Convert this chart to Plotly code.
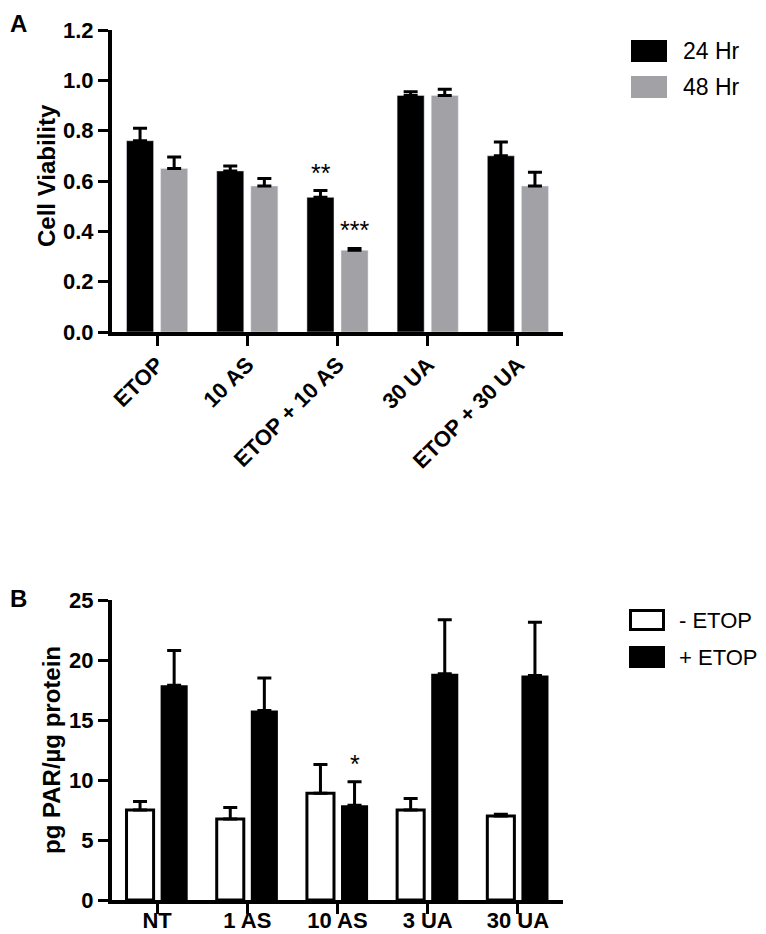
import plotly.graph_objs as go

# the page puts the figure 8 px in from the top-left corner
OX, OY = 8, 8
W, H = 766 - OX, 934 - OY

# panel A - cell viability
groups_a = ['ETOP', '10 AS', 'ETOP + 10 AS', '30 UA', 'ETOP + 30 UA']
via_24 = [0.76, 0.64, 0.535, 0.94, 0.70]
via_24_err = [0.05, 0.02, 0.027, 0.015, 0.055]
via_48 = [0.65, 0.58, 0.325, 0.94, 0.58]
via_48_err = [0.045, 0.03, 0.007, 0.025, 0.055]
sig_24 = ['', '', '**', '', '']
sig_48 = ['', '', '***', '', '']

# panel B - PAR levels
groups_b = ['NT', '1 AS', '10 AS', '3 UA', '30 UA']
par_minus = [7.5, 6.75, 8.9, 7.5, 7.0]
par_minus_err = [0.7, 0.95, 2.4, 0.95, 0.15]
par_plus = [17.9, 15.8, 7.9, 18.85, 18.7]
par_plus_err = [2.9, 2.7, 1.95, 4.5, 4.45]
sig_plus = ['', '', '*', '', '']

FONT = 'Liberation Sans, Arial, sans-serif'
GREY = '#a2a2a6'


def px(x):
    # screen pixel -> paper fraction
    return (x - OX) / W


def py(y):
    return 1 - (y - OY) / H


def up_err(err, width=3):
    return dict(type='data', array=err, arrayminus=[0] * len(err), symmetric=False,
                color='black', thickness=width, width=7)


data = [
    go.Bar(x=groups_a, y=via_24, error_y=up_err(via_24_err), marker=dict(color='black'),
           name='24 Hr', xaxis='x', yaxis='y', offsetgroup='a1'),
    go.Bar(x=groups_a, y=via_48, error_y=up_err(via_48_err), marker=dict(color=GREY),
           name='48 Hr', xaxis='x', yaxis='y', offsetgroup='a2'),
    go.Bar(x=groups_b, y=par_minus, error_y=up_err(par_minus_err),
           marker=dict(color='white', line=dict(color='black', width=3)),
           name='- ETOP', xaxis='x2', yaxis='y2', offsetgroup='b1'),
    go.Bar(x=groups_b, y=par_plus, error_y=up_err(par_plus_err),
           marker=dict(color='black', line=dict(color='black', width=0)),
           name='+ ETOP', xaxis='x2', yaxis='y2', offsetgroup='b2'),
]

tick_font = dict(family=FONT, size=22, color='black', weight='bold')
axis_common = dict(showline=True, linewidth=4, linecolor='black', ticks='outside',
                   ticklen=10, tickwidth=3, tickcolor='black', showgrid=False,
                   zeroline=False, tickfont=tick_font, automargin=False)

layout = dict(
    width=W, height=H, margin=dict(l=0, r=0, t=0, b=0),
    paper_bgcolor='white', plot_bgcolor='white',
    barmode='group', bargap=0.244, bargroupgap=0.206,
    showlegend=False,
    xaxis=dict(domain=[px(112), px(563)], anchor='y', type='category', tickangle=-45,
               range=[-0.5, 4.5], ticklabelstandoff=-3, **axis_common),
    yaxis=dict(domain=[py(332), py(30)], anchor='x', range=[0, 1.2], dtick=0.2,
               tickformat='.1f', **axis_common),
    xaxis2=dict(domain=[px(112), px(563)], anchor='y2', type='category', tickangle=0,
                range=[-0.5, 4.5], ticklabelstandoff=-12, **axis_common),
    yaxis2=dict(domain=[py(900), py(600)], anchor='x2', range=[0, 25], dtick=5,
                **axis_common),
)

annotations = [
    dict(text='<b>A</b>', x=0, y=py(23), xanchor='left', yanchor='middle'),
    dict(text='<b>B</b>', x=0, y=py(598), xanchor='left', yanchor='middle'),
    dict(text='<b>Cell Viability</b>', x=px(47), y=py(176), textangle=-90,
         xanchor='center', yanchor='middle'),
    dict(text='<b>pg PAR/µg protein</b>', x=px(51), y=py(750), textangle=-90,
         xanchor='center', yanchor='middle'),
]
for a in annotations:
    a.update(xref='paper', yref='paper', showarrow=False,
             font=dict(family=FONT, size=24, color='black'))

# significance stars above the error bars
star_sets = [
    (groups_a, via_24, via_24_err, sig_24, -17, 'x', 'y'),
    (groups_a, via_48, via_48_err, sig_48, 17, 'x', 'y'),
    (groups_b, par_plus, par_plus_err, sig_plus, 17, 'x2', 'y2'),
]
for cats, vals, errs, sig, shift, xr, yr in star_sets:
    for c, v, e, s in zip(cats, vals, errs, sig):
        if s:
            annotations.append(dict(text=s, x=c, y=v + e, xref=xr, yref=yr, xshift=shift,
                                    yshift=2, yanchor='bottom', showarrow=False,
                                    font=dict(family=FONT, size=25, color='black')))

# legends drawn as boxes + labels
shapes = []
legend_items = [
    ('24 Hr', dict(color='black', fill='black'), 631, 40, 23, 50),
    ('48 Hr', dict(color=GREY, fill=GREY), 631, 76, 23, 50),
    ('- ETOP', dict(color='black', fill='white'), 629, 609, 22, 48),
    ('+ ETOP', dict(color='black', fill='black'), 629, 646, 22, 48),
]
for label, sty, x0, y0, fs, gap in legend_items:
    lw = 3 if sty['fill'] == 'white' else 0
    shapes.append(dict(type='rect', xref='paper', yref='paper',
                       x0=px(x0 + lw / 2), x1=px(x0 + 36 - lw / 2),
                       y0=py(y0 + lw / 2), y1=py(y0 + 22 - lw / 2),
                       fillcolor=sty['fill'], line=dict(color=sty['color'], width=lw)))
    annotations.append(dict(text=label, x=px(x0 + gap), y=py(y0 + 11), xref='paper',
                            yref='paper', xanchor='left', yanchor='middle', showarrow=False,
                            font=dict(family=FONT, size=fs, color='black')))

layout['annotations'] = annotations
layout['shapes'] = shapes

fig = go.Figure(data, layout)
fig.write_html("out.html")
